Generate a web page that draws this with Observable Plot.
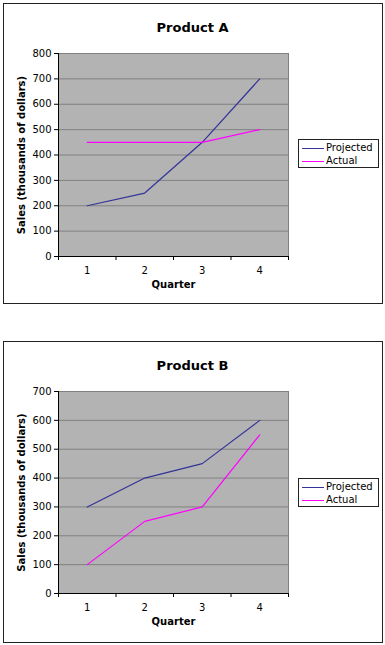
<!DOCTYPE html>
<html>
<head>
<meta charset="utf-8">
<script src="https://cdn.jsdelivr.net/npm/d3@7"></script>
<script src="https://cdn.jsdelivr.net/npm/@observablehq/plot@0.6"></script>
<style>
  html, body { margin: 0; padding: 0; background: white; }
  #root { position: relative; width: 385px; height: 645px; overflow: hidden; font-family: "DejaVu Sans", Verdana, sans-serif; }
  .box { position: absolute; box-sizing: border-box; border: 1px solid #222; pointer-events: none; }
  .chart { position: absolute; left: 0; }
  .legend { position: absolute; box-sizing: border-box; border: 1px solid #222; background: white; width: 81px; height: 29px; font-size: 10px; line-height: 12px; }
  .legend .row { position: absolute; left: 3px; height: 12px; line-height: 12px; white-space: nowrap; }
  .legend .sw { position: absolute; left: 0; top: 6px; width: 22px; height: 0; border-top: 1px solid; }
  .legend .lab { position: absolute; left: 24px; top: 0; }
</style>
</head>
<body>
<div id="root"></div>
<script>
const quarters = [1, 2, 3, 4];
const quarterBounds = [0.5, 1.5, 2.5, 3.5, 4.5];
const seriesNames = ["Projected", "Actual"];
const seriesColors = ["#333399", "#ff00ff"];

const titleA = "Product A";
const projectedA = [200, 250, 450, 700];
const actualA = [450, 450, 450, 500];
const yTicksA = [0, 100, 200, 300, 400, 500, 600, 700, 800];

const titleB = "Product B";
const projectedB = [300, 400, 450, 600];
const actualB = [100, 250, 300, 550];
const yTicksB = [0, 100, 200, 300, 400, 500, 600, 700];

const xLabel = "Quarter";
const yLabel = "Sales (thousands of dollars)";

const root = document.getElementById("root");

function makeChart({title, projected, actual, yTicks, top, svgHeight, marginTop, marginBottom, boxTop, boxHeight, legendTop}) {
  const rows = [];
  quarters.forEach((q, i) => {
    rows.push({q, v: projected[i], series: seriesNames[0]});
  });
  quarters.forEach((q, i) => {
    rows.push({q, v: actual[i], series: seriesNames[1]});
  });
  const yMax = yTicks[yTicks.length - 1];
  const svg = Plot.plot({
    width: 385,
    height: svgHeight,
    marginLeft: 58,
    marginRight: 97,
    marginTop,
    marginBottom,
    style: {fontFamily: "DejaVu Sans, Verdana, sans-serif", fontSize: "10px", color: "black", background: "transparent", overflow: "visible"},
    x: {type: "linear", domain: [0.5, 4.5]},
    y: {domain: [0, yMax]},
    color: {domain: seriesNames, range: seriesColors},
    marks: [
      Plot.frame({fill: "#b3b3b3", stroke: "#808080"}),
      Plot.ruleY(yTicks.slice(1), {stroke: "#808080", strokeWidth: 1}),
      Plot.ruleY([0], {stroke: "black"}),
      Plot.ruleX([0.5], {stroke: "black"}),
      Plot.axisY({ticks: yTicks, tickSize: 4, tickPadding: 3, label: null, tickFormat: d3.format("d")}),
      Plot.axisX({ticks: quarterBounds, tickSize: 4, tickFormat: () => "", label: null}),
      Plot.axisX({ticks: quarters, tickSize: 0, tickPadding: 10, label: null, tickFormat: d3.format("d")}),
      Plot.line(rows, {x: "q", y: "v", z: "series", stroke: "series", strokeWidth: 1.2}),
      Plot.text([title], {frameAnchor: "top", dx: 19, dy: -31, fontSize: 13, fontWeight: "bold", fill: "black"}),
      Plot.text([xLabel], {frameAnchor: "bottom", dy: 31, fontWeight: "bold", fill: "black"}),
      Plot.text([yLabel], {frameAnchor: "left", dx: -37, rotate: -90, textAnchor: "middle", fontWeight: "bold", fill: "black"})
    ]
  });
  svg.classList.add("chart");
  svg.style.top = top + "px";
  root.appendChild(svg);

  const box = document.createElement("div");
  box.className = "box";
  box.style.left = "3px";
  box.style.top = boxTop + "px";
  box.style.width = "380px";
  box.style.height = boxHeight + "px";
  root.appendChild(box);

  const legend = document.createElement("div");
  legend.className = "legend";
  legend.style.left = "298px";
  legend.style.top = legendTop + "px";
  seriesNames.forEach((name, i) => {
    const row = document.createElement("div");
    row.className = "row";
    row.style.top = (2 + i * 13) + "px";
    const sw = document.createElement("span");
    sw.className = "sw";
    sw.style.borderTopColor = seriesColors[i];
    const t = document.createElement("span");
    t.className = "lab";
    t.textContent = name;
    row.appendChild(sw);
    row.appendChild(t);
    legend.appendChild(row);
  });
  root.appendChild(legend);
}

makeChart({title: titleA, projected: projectedA, actual: actualA, yTicks: yTicksA,
  top: 0, svgHeight: 310, marginTop: 53, marginBottom: 54, boxTop: 3, boxHeight: 301, legendTop: 139});
makeChart({title: titleB, projected: projectedB, actual: actualB, yTicks: yTicksB,
  top: 330, svgHeight: 315, marginTop: 61, marginBottom: 52, boxTop: 341, boxHeight: 302, legendTop: 478});
</script>
</body>
</html>
